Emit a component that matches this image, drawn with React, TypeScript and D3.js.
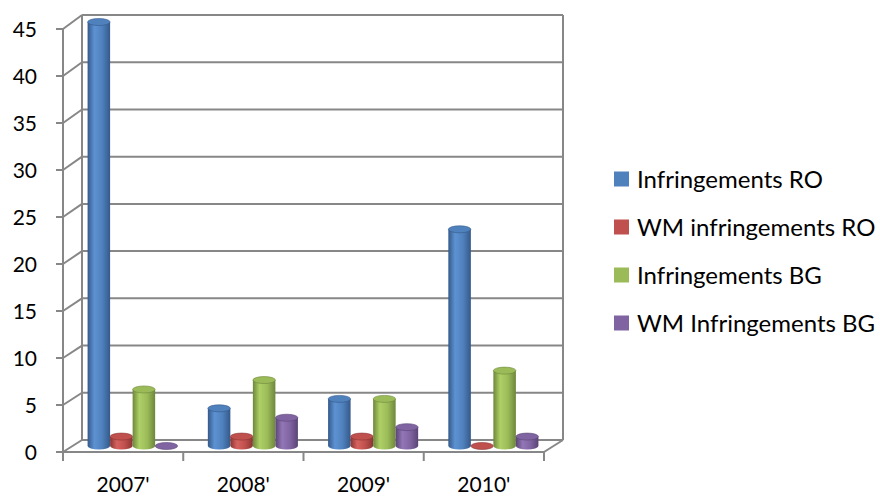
import React, { useEffect, useRef } from "react";
import { select, scaleBand, scaleLinear, range } from "d3";

const categories = ["2007'", "2008'", "2009'", "2010'"];
const seriesNames = [
  "Infringements RO",
  "WM infringements RO",
  "Infringements BG",
  "WM Infringements BG",
];
const infringementsRO = [45, 4, 5, 23];
const wmInfringementsRO = [1, 1, 1, 0];
const infringementsBG = [6, 7, 5, 8];
const wmInfringementsBG = [0, 3, 2, 1];
const yTicks = [0, 5, 10, 15, 20, 25, 30, 35, 40, 45];

const seriesColors = [
  { base: "#4F81BD", dark: "#35598a", light: "#5d92d2" },
  { base: "#C0504D", dark: "#8a3533", light: "#d6625e" },
  { base: "#9BBB59", dark: "#6d873b", light: "#aed066" },
  { base: "#8064A2", dark: "#5a4575", light: "#9276b6" },
];

const FONT = "Lato, Carlito, Calibri, sans-serif";

function drawChart(node: SVGSVGElement) {
  const width = 880;
  const height = 497;
  const svg = select(node);
  svg.selectAll("*").remove();
  svg.attr("width", width).attr("height", height);

  const values = [infringementsRO, wmInfringementsRO, infringementsBG, wmInfringementsBG];

  // front plane, back wall, and mid-depth (where the bars stand)
  const xFront = scaleBand().domain(categories).range([63, 544]);
  const yFront = scaleLinear().domain([0, 45]).range([452, 29]);
  const yBack = scaleLinear().domain([0, 45]).range([440, 15]);
  const yMid = scaleLinear().domain([0, 45]).range([446, 22]);
  const depthX = 19;
  const midX = depthX / 2;
  const xSeries = scaleBand()
    .domain(range(seriesNames.length).map(String))
    .range([0, xFront.bandwidth()])
    .paddingInner(0)
    .paddingOuter(0.67);

  const grid = "#878787";

  // gradients for cylinders
  const defs = svg.append("defs");
  seriesColors.forEach((c, i) => {
    const g = defs
      .append("linearGradient")
      .attr("id", "cyl" + i)
      .attr("x1", 0)
      .attr("x2", 1)
      .attr("y1", 0)
      .attr("y2", 0);
    g.append("stop").attr("offset", 0).attr("stop-color", c.dark);
    g.append("stop").attr("offset", 0.3).attr("stop-color", c.light);
    g.append("stop").attr("offset", 0.65).attr("stop-color", c.base);
    g.append("stop").attr("offset", 1).attr("stop-color", c.dark);
  });

  const walls = svg.append("g").attr("stroke", grid).attr("stroke-width", 2).attr("fill", "none");

  // back wall gridlines
  walls
    .selectAll(".bgrid")
    .data(yTicks)
    .join("line")
    .attr("x1", 63 + depthX)
    .attr("x2", 544 + depthX)
    .attr("y1", (d) => yBack(d))
    .attr("y2", (d) => yBack(d));
  // back wall verticals
  [63 + depthX, 544 + depthX].forEach((x) =>
    walls.append("line").attr("x1", x).attr("x2", x).attr("y1", yBack(45)).attr("y2", yBack(0))
  );
  // side wall diagonals
  walls
    .selectAll(".side")
    .data(yTicks)
    .join("line")
    .attr("x1", 63)
    .attr("x2", 63 + depthX)
    .attr("y1", (d) => yFront(d))
    .attr("y2", (d) => yBack(d));
  // front axis line
  walls.append("line").attr("x1", 63).attr("x2", 63).attr("y1", yFront(45)).attr("y2", yFront(0));
  // y ticks
  walls
    .selectAll(".ytick")
    .data(yTicks)
    .join("line")
    .attr("x1", 56)
    .attr("x2", 63)
    .attr("y1", (d) => yFront(d))
    .attr("y2", (d) => yFront(d));
  // floor
  walls.append("line").attr("x1", 63).attr("x2", 544).attr("y1", yFront(0)).attr("y2", yFront(0));
  walls
    .append("line")
    .attr("x1", 544)
    .attr("x2", 544 + depthX)
    .attr("y1", yFront(0))
    .attr("y2", yBack(0));
  // x ticks
  const xTickPos = categories.map((c) => xFront(c) as number).concat([544]);
  walls
    .selectAll(".xtick")
    .data(xTickPos)
    .join("line")
    .attr("x1", (d) => d)
    .attr("x2", (d) => d)
    .attr("y1", yFront(0))
    .attr("y2", yFront(0) + 9);

  // bars as cylinders
  const bars = svg.append("g");
  categories.forEach((cat, ci) => {
    values.forEach((vals, si) => {
      const v = vals[ci];
      const bw = xSeries.bandwidth();
      const x0 = (xFront(cat) as number) + midX + (xSeries(String(si)) as number);
      const x1 = x0 + bw;
      const rx = bw / 2;
      const ry = 3.5;
      const top = yMid(v);
      const base = yMid(0);
      const c = seriesColors[si];
      if (v > 0) {
        bars
          .append("path")
          .attr(
            "d",
            `M${x0},${top} L${x0},${base} A${rx},${ry} 0 0 0 ${x1},${base} L${x1},${top} Z`
          )
          .attr("fill", `url(#cyl${si})`);
      }
      bars
        .append("ellipse")
        .attr("cx", x0 + rx)
        .attr("cy", top)
        .attr("rx", rx)
        .attr("ry", ry)
        .attr("fill", c.base)
        .attr("stroke", c.dark)
        .attr("stroke-width", 0.6);
    });
  });

  // y labels
  svg
    .append("g")
    .attr("font-family", FONT)
    .attr("font-size", 21)
    .attr("fill", "#000")
    .attr("text-anchor", "end")
    .selectAll("text")
    .data(yTicks)
    .join("text")
    .attr("x", 37)
    .attr("y", (d) => yFront(d))
    .attr("dy", "0.36em")
    .text((d) => d);

  // x labels
  svg
    .append("g")
    .attr("font-family", FONT)
    .attr("font-size", 21)
    .attr("fill", "#000")
    .attr("text-anchor", "middle")
    .selectAll("text")
    .data(categories)
    .join("text")
    .attr("x", (d) => (xFront(d) as number) + xFront.bandwidth() / 2)
    .attr("y", 492)
    .text((d) => d);

  // legend
  const legend = svg
    .append("g")
    .selectAll("g")
    .data(seriesNames)
    .join("g")
    .attr("transform", (d, i) => `translate(614,${179 + i * 48})`);
  legend
    .append("rect")
    .attr("x", 0)
    .attr("y", -7.5)
    .attr("width", 15)
    .attr("height", 15)
    .attr("fill", (d, i) => seriesColors[i].base);
  legend
    .append("text")
    .attr("x", 23)
    .attr("dy", "0.36em")
    .attr("font-family", FONT)
    .attr("font-size", 24)
    .attr("fill", "#000")
    .text((d) => d);
}

export default function App() {
  const ref = useRef<SVGSVGElement>(null);
  useEffect(() => {
    if (ref.current) drawChart(ref.current);
  }, []);
  return (
    <svg
      ref={ref}
      style={{ position: "absolute", left: 0, top: 0, display: "block", background: "#fff" }}
    />
  );
}
